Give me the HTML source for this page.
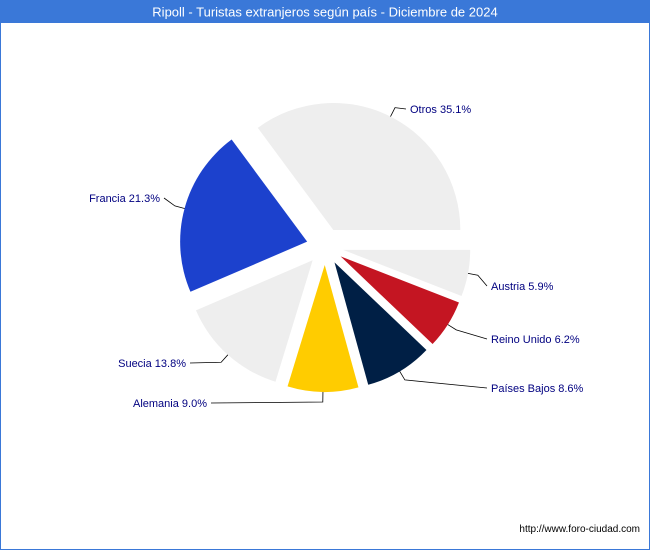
<!DOCTYPE html>
<html><head><meta charset="utf-8"><style>
body{margin:0;width:650px;height:550px;overflow:hidden;background:#fff;font-family:"Liberation Sans","DejaVu Sans",sans-serif}
</style></head><body>
<svg width="650" height="550" viewBox="0 0 650 550" xmlns="http://www.w3.org/2000/svg">
<rect x="0.5" y="0.5" width="649" height="549" fill="#fff" stroke="#3a78d8"/>
<rect x="0" y="0" width="650" height="23" fill="#3a78d8"/>
<text x="325" y="16.5" text-anchor="middle" fill="#fff" font-size="13">Ripoll - Turistas extranjeros según país - Diciembre de 2024</text>
<g id="pie"></g>
<text x="640" y="532" text-anchor="end" font-size="10" fill="#000">http://www.foro-ciudad.com</text>
</svg>
<script>
const categories=["Otros","Francia","Suecia","Alemania","Países Bajos","Reino Unido","Austria"];
const values=[35.1,21.3,13.8,9.0,8.6,6.2,5.9];
const colors=["#eeeeee","#1c41cd","#eeeeee","#ffcc00","#001f45","#c41522","#eeeeee"];
const cx=325,cy=246.5,r=127,d=18.5;
const labelPos=[[410,109,"start"],[160,198,"end"],[186,363,"end"],[207,403,"end"],[491,388,"start"],[491,339,"start"],[491,286,"start"]];
const g=document.getElementById('pie');
const NS="http://www.w3.org/2000/svg";
const total=values.reduce((a,b)=>a+b,0);
let a=0;
values.forEach((v,i)=>{
  const sweep=v/total*2*Math.PI;
  const a0=a,a1=a+sweep,m=a+sweep/2;a=a1;
  const ox=cx+d*Math.cos(m),oy=cy-d*Math.sin(m);
  const x0=ox+r*Math.cos(a0),y0=oy-r*Math.sin(a0);
  const x1=ox+r*Math.cos(a1),y1=oy-r*Math.sin(a1);
  const p=document.createElementNS(NS,'path');
  p.setAttribute('d',`M${ox},${oy}L${x0},${y0}A${r},${r} 0 ${sweep>Math.PI?1:0} 0 ${x1},${y1}Z`);
  p.setAttribute('fill',colors[i]);
  
  
  g.appendChild(p);
  const ex=ox+r*Math.cos(m),ey=oy-r*Math.sin(m);
  const ex2=ox+(r+10)*Math.cos(m),ey2=oy-(r+10)*Math.sin(m);
  const [lx,ly,anc]=labelPos[i];
  const tx=anc==="start"?lx-4:lx+4;
  const l=document.createElementNS(NS,'polyline');
  l.setAttribute('points',`${ex},${ey} ${ex2},${ey2} ${tx},${ly}`);
  l.setAttribute('fill','none');l.setAttribute('stroke','#000');l.setAttribute('stroke-width','0.8');
  
  
  g.appendChild(l);
  const t=document.createElementNS(NS,'text');
  t.setAttribute('x',lx);t.setAttribute('y',ly+4);t.setAttribute('text-anchor',anc);
  t.setAttribute('font-size','11');t.setAttribute('fill','#000080');
  t.textContent=categories[i]+' '+v.toFixed(1)+'%';
  
  
  g.appendChild(t);
});
</script>
</body></html>
